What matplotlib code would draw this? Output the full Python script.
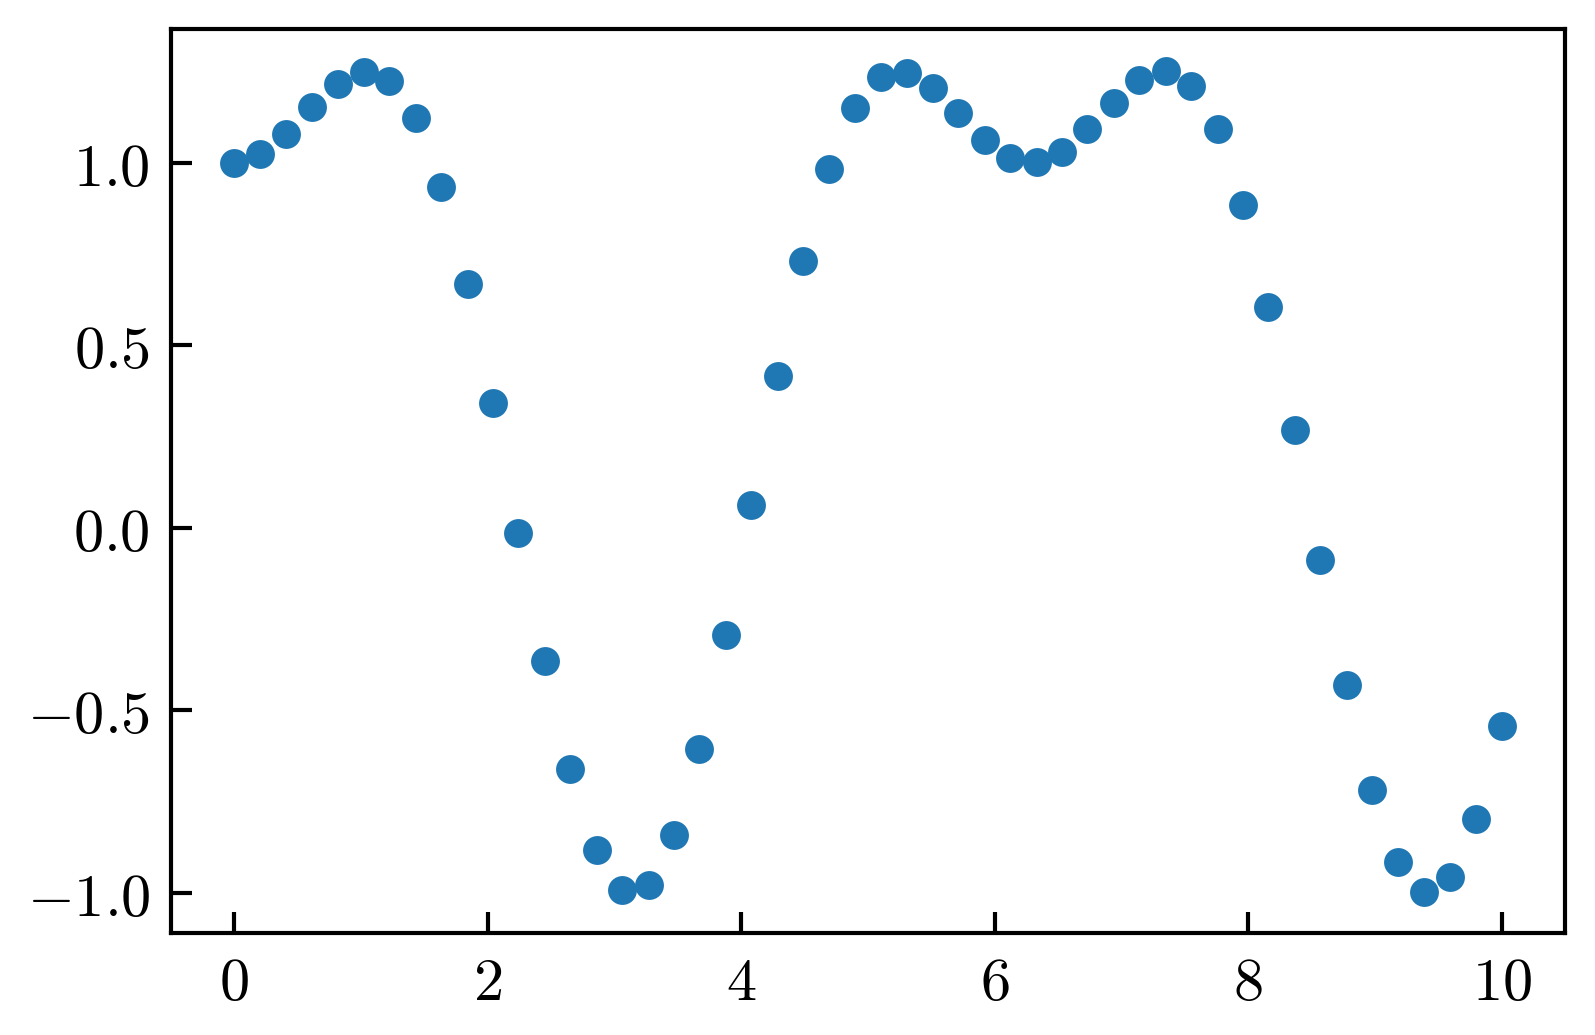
import numpy as np
import matplotlib
matplotlib.use('Agg')
import matplotlib.pyplot as plt
from matplotlib.ticker import FormatStrFormatter

# sample positions (50 evenly spaced samples on [0, 10])
x = [0.00, 0.20, 0.41, 0.61, 0.82, 1.02, 1.22, 1.43, 1.63, 1.84,
     2.04, 2.24, 2.45, 2.65, 2.86, 3.06, 3.27, 3.47, 3.67, 3.88,
     4.08, 4.29, 4.49, 4.69, 4.90, 5.10, 5.31, 5.51, 5.71, 5.92,
     6.12, 6.33, 6.53, 6.73, 6.94, 7.14, 7.35, 7.55, 7.76, 7.96,
     8.16, 8.37, 8.57, 8.78, 8.98, 9.18, 9.39, 9.59, 9.80, 10.00]

# values
y = [1.000, 1.025, 1.078, 1.153, 1.217, 1.250, 1.225, 1.122, 0.933, 0.669,
     0.342, -0.014, -0.364, -0.661, -0.881, -0.992, -0.978, -0.842, -0.606, -0.292,
     0.064, 0.417, 0.731, 0.983, 1.150, 1.236, 1.247, 1.206, 1.136, 1.064,
     1.014, 1.003, 1.031, 1.092, 1.164, 1.228, 1.253, 1.211, 1.092, 0.886,
     0.606, 0.269, -0.089, -0.431, -0.717, -0.914, -0.997, -0.956, -0.797, -0.542]

plt.rcParams['mathtext.fontset'] = 'cm'
plt.rcParams['axes.linewidth'] = 1.0

fig = plt.figure(figsize=(5.3167, 3.45), dpi=300)
ax = fig.add_axes([0.1072, 0.0986, 0.874, 0.8729])

ax.scatter(x, y, s=48, color='#1f77b4', linewidths=0)

ax.set_xticks([0, 2, 4, 6, 8, 10])
ax.set_yticks([-1.0, -0.5, 0.0, 0.5, 1.0])
ax.xaxis.set_major_formatter(FormatStrFormatter(r'$%d$'))
ax.yaxis.set_major_formatter(FormatStrFormatter(r'$%.1f$'))
ax.tick_params(direction='in', length=5, width=1.0, labelsize=14.5, pad=5)

plt.savefig('out.png', dpi=300)
plt.close()
